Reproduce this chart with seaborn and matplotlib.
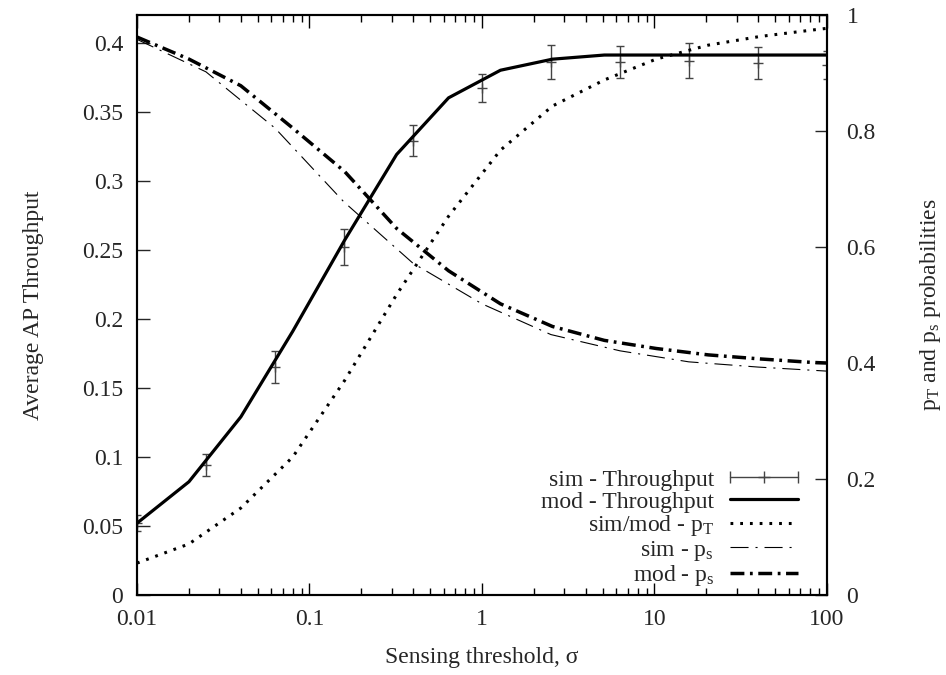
import numpy as np
import pandas as pd
import matplotlib
matplotlib.use("Agg")
import matplotlib.pyplot as plt
import seaborn as sns
from matplotlib.lines import Line2D
from matplotlib.legend_handler import HandlerLine2D
from matplotlib.ticker import FixedLocator, LogLocator, NullFormatter

# Model grid (sigma doubled each step) and simulation grid
sigma_mod = [0.01, 0.02, 0.04, 0.08, 0.16, 0.32, 0.64, 1.28, 2.56, 5.12,
             10.24, 20.48, 40.96, 81.92, 100]
sigma_sim = [0.01, 0.0251, 0.0631, 0.158, 0.398, 1.0, 2.51, 6.31, 15.8, 39.8, 100]

# Throughput (left axis)
thr_mod = [0.052, 0.082, 0.129, 0.191, 0.257, 0.319, 0.360, 0.380, 0.388, 0.391,
           0.391, 0.391, 0.391, 0.391, 0.391]
thr_sim = [0.052, 0.094, 0.165, 0.252, 0.329, 0.367, 0.386, 0.386, 0.387, 0.385, 0.384]
thr_err = [0.006, 0.008, 0.0115, 0.013, 0.011, 0.010, 0.012, 0.0115, 0.0125, 0.0115, 0.010]

# Probabilities (right axis)
pT = [0.055, 0.088, 0.150, 0.238, 0.370, 0.518, 0.653, 0.767, 0.843, 0.888,
      0.924, 0.948, 0.963, 0.974, 0.977]
ps_mod = [0.962, 0.924, 0.878, 0.805, 0.730, 0.632, 0.559, 0.502, 0.463, 0.439,
          0.425, 0.414, 0.407, 0.401, 0.400]
ps_sim = [0.958, 0.902, 0.805, 0.678, 0.572, 0.502, 0.449, 0.421, 0.402, 0.393, 0.386]

df_mod = pd.DataFrame({"sigma": sigma_mod, "thr": thr_mod, "pT": pT, "ps": ps_mod})
df_sim = pd.DataFrame({"sigma": sigma_sim, "thr": thr_sim, "err": thr_err, "ps": ps_sim})

sns.set_style("white")
plt.rcParams["font.family"] = ["Liberation Serif", "DejaVu Serif"]
plt.rcParams["mathtext.fontset"] = "custom"
plt.rcParams["mathtext.rm"] = "Liberation Serif"
plt.rcParams["mathtext.it"] = "Liberation Serif:italic"
plt.rcParams["lines.scale_dashes"] = False
FS = 17

fig = plt.figure(figsize=(9.46, 6.75), dpi=100)
ax = fig.add_axes([0.1448, 0.1185, 0.7294, 0.8593])
ax2 = ax.twinx()

# throughput
ax.errorbar(df_sim["sigma"], df_sim["thr"], yerr=df_sim["err"], fmt="none",
            ecolor="#444444", elinewidth=1.0, capsize=3, capthick=1.0, zorder=3)
sns.scatterplot(data=df_sim, x="sigma", y="thr", ax=ax, marker="+", s=60,
                color="#444444", linewidth=1.0, zorder=4, legend=False)
sns.lineplot(data=df_mod, x="sigma", y="thr", ax=ax, color="black", lw=2.3,
             estimator=None, sort=False, zorder=5)

# probabilities
sns.lineplot(data=df_mod, x="sigma", y="pT", ax=ax2, color="black", lw=2.2,
             linestyle=(0, (2.0, 5.0)), estimator=None, sort=False)
sns.lineplot(data=df_sim, x="sigma", y="ps", ax=ax2, color="black", lw=0.8,
             linestyle=(0, (13, 5, 1.5, 5)), estimator=None, sort=False)
sns.lineplot(data=df_mod, x="sigma", y="ps", ax=ax2, color="black", lw=2.5,
             linestyle=(0, (10, 4, 2, 4)), estimator=None, sort=False)

ax.set_xscale("log")
ax.set_xlim(0.01, 100)
ax.set_ylim(0, 0.42)
ax2.set_ylim(0, 1)

ax.xaxis.set_major_locator(FixedLocator([0.01, 0.1, 1, 10, 100]))
ax.set_xticklabels(["0.01", "0.1", "1", "10", "100"])
ax.xaxis.set_minor_locator(LogLocator(base=10, subs=np.arange(2, 10)))
ax.xaxis.set_minor_formatter(NullFormatter())

yt = [0, 0.05, 0.1, 0.15, 0.2, 0.25, 0.3, 0.35, 0.4]
ax.set_yticks(yt)
ax.set_yticklabels(["0", "0.05", "0.1", "0.15", "0.2", "0.25", "0.3", "0.35", "0.4"])
y2t = [0, 0.2, 0.4, 0.6, 0.8, 1]
ax2.set_yticks(y2t)
ax2.set_yticklabels(["0", "0.2", "0.4", "0.6", "0.8", "1"])

ax.tick_params(axis="x", which="both", direction="in", top=True, bottom=True,
               labelsize=FS, pad=10, color="black")
ax.tick_params(axis="x", which="major", length=9, width=1)
ax.tick_params(axis="x", which="minor", length=5, width=1)
ax.tick_params(axis="y", direction="in", left=True, right=False, length=9, width=1,
               labelsize=FS, pad=10)
ax2.tick_params(axis="y", direction="in", right=True, left=False, length=9, width=1,
                labelsize=FS, pad=14)

for a in (ax, ax2):
    for s in a.spines.values():
        s.set_color("black")
        s.set_linewidth(1.5)

ax.set_xlabel("Sensing threshold, σ", fontsize=FS)
ax.set_ylabel("Average AP Throughput", fontsize=FS)
ax2.set_ylabel("p$_\\mathrm{T}$ and p$_\\mathrm{s}$ probabilities", fontsize=FS)
ax.xaxis.set_label_coords(0.5, -0.09)
ax.yaxis.set_label_coords(-0.135, 0.5)
ax2.yaxis.set_label_coords(1.132, 0.5)

# legend in gnuplot style
h_plus = Line2D([], [], color="#444444", lw=1.0, marker="+", markersize=8)
h_caps = Line2D([], [], color="#444444", lw=0, marker="|", markersize=9)
h_mod = Line2D([], [], color="black", lw=2.3)
h_pT = Line2D([], [], color="black", lw=2.2, linestyle=(0, (2.0, 5.0)))
h_pss = Line2D([], [], color="black", lw=0.8, linestyle=(0, (13, 5, 1.5, 5)))
h_psm = Line2D([], [], color="black", lw=2.5, linestyle=(0, (10, 4, 2, 4)))
labels = ["sim - Throughput", "mod - Throughput", "sim/mod - p$_\\mathrm{T}$",
          "sim - p$_\\mathrm{s}$", "mod - p$_\\mathrm{s}$"]
leg = ax2.legend([(h_plus, h_caps), h_mod, h_pT, h_pss, h_psm], labels,
                 loc="lower right", bbox_to_anchor=(0.958, 0.012), frameon=False,
                 markerfirst=False, fontsize=FS, handlelength=2.9, numpoints=1,
                 labelspacing=0.02, handletextpad=0.65, borderpad=0,
                 borderaxespad=0,
                 handler_map={h_caps: HandlerLine2D(numpoints=2, marker_pad=0)})
for t in leg.get_texts():
    t.set_ha("right")

fig.savefig("out.png", dpi=100)
